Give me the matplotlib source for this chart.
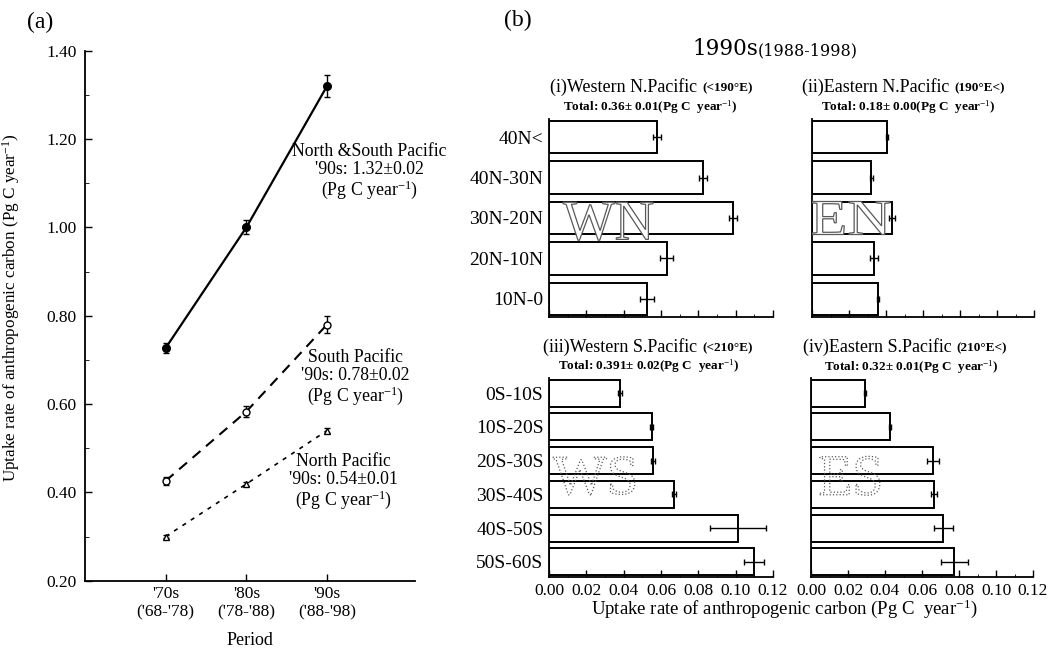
import numpy as np
import matplotlib
matplotlib.use("Agg")
import matplotlib.pyplot as plt
import matplotlib.transforms as mtransforms
from matplotlib.ticker import MultipleLocator, FormatStrFormatter
from matplotlib.textpath import TextPath
from matplotlib.patches import PathPatch
from matplotlib.font_manager import FontProperties

plt.rcParams['font.family'] = ['Liberation Serif', 'DejaVu Serif']
plt.rcParams['mathtext.fontset'] = 'custom'
plt.rcParams['mathtext.rm'] = 'Liberation Serif'
plt.rcParams['mathtext.it'] = 'Liberation Serif:italic'
plt.rcParams['mathtext.bf'] = 'Liberation Serif:bold'

W, H = 1058, 649

# --- (a) donnees par periode
periods = ["'70s\n('68-'78)", "'80s\n('78-'88)", "'90s\n('88-'98)"]
ns_pac = [0.727, 1.000, 1.320]
ns_err = [0.011, 0.016, 0.024]
s_pac = [0.426, 0.583, 0.780]
s_err = [0.009, 0.012, 0.019]
n_pac = [0.300, 0.419, 0.540]
n_err = [0.004, 0.005, 0.006]

# --- (b) bandes de latitude, annees 90
north_bands = ['40N<', '40N-30N', '30N-20N', '20N-10N', '10N-0']
south_bands = ['0S-10S', '10S-20S', '20S-30S', '30S-40S', '40S-50S', '50S-60S']
wn_val = [0.058, 0.0825, 0.0985, 0.063, 0.0525]
wn_err = [0.0022, 0.0022, 0.0022, 0.0033, 0.0036]
en_val = [0.0405, 0.032, 0.043, 0.0335, 0.0357]
en_err = [0.0006, 0.0008, 0.0016, 0.002, 0.0005]
ws_val = [0.038, 0.055, 0.0557, 0.067, 0.101, 0.110]
ws_err = [0.001, 0.0008, 0.001, 0.001, 0.015, 0.0054]
es_val = [0.029, 0.0425, 0.066, 0.0665, 0.0714, 0.0773]
es_err = [0.0005, 0.0005, 0.0031, 0.0018, 0.0051, 0.0073]


def px(x, y):
    # pixels (origine en haut a gauche) -> fraction de figure
    return x / W, 1 - y / H


fig = plt.figure(figsize=(W / 100, H / 100), dpi=100)

# ================= (a) =================
ax = fig.add_axes([85 / W, 1 - 580.7 / H, 330 / W, 530 / H])
xs = np.arange(1, len(periods) + 1)
ax.errorbar(xs, ns_pac, yerr=ns_err, color='black', lw=1.6, marker='o', ms=5.5,
            mfc='black', capsize=2.5, elinewidth=1)
ax.errorbar(xs, s_pac, yerr=s_err, color='black', lw=1.5, ls=(0, (5, 3.5)), marker='o',
            ms=5, mfc='white', capsize=2.5, elinewidth=1)
ax.errorbar(xs, n_pac, yerr=n_err, color='black', lw=1.2, ls=(0, (2.5, 3.5)), marker='^',
            ms=4, mfc='white', capsize=2, elinewidth=1)

ax.set_xlim(0, 4.09)
ax.set_ylim(0.2, 1.4)
ax.set_xticks(xs)
ax.set_xticklabels(periods, fontsize=12.5)
ax.yaxis.set_major_locator(MultipleLocator(0.2))
ax.yaxis.set_minor_locator(MultipleLocator(0.1))
ax.yaxis.set_major_formatter(FormatStrFormatter('%.2f'))
ax.tick_params(axis='both', direction='in', length=5, width=1, labelsize=12.5)
ax.tick_params(axis='y', which='minor', direction='in', length=3)
ax.tick_params(axis='y', pad=6)
ax.tick_params(axis='x', pad=4)
for s in ['top', 'right']:
    ax.spines[s].set_visible(False)
for s in ['left', 'bottom']:
    ax.spines[s].set_linewidth(1.3)
ax.set_xlabel('Period', fontsize=13, labelpad=8)
ax.set_ylabel('Uptake rate of anthropogenic carbon (Pg C year$^{-1}$)', fontsize=12.3)
ax.yaxis.set_label_coords((22 - 85) / 330, 0.515)

ax.text(3.525, 1.125, "North &South Pacific\n'90s: 1.32±0.02\n(Pg C year$^{-1}$)",
        ha='center', va='center', fontsize=12.8, linespacing=1.05)
ax.text(3.35, 0.659, "South Pacific\n'90s: 0.78±0.02\n(Pg C year$^{-1}$)",
        ha='center', va='center', fontsize=12.8, linespacing=1.05)
ax.text(3.20, 0.4235, "North Pacific\n'90s: 0.54±0.01\n(Pg C year$^{-1}$)",
        ha='center', va='center', fontsize=12.8, linespacing=1.05)

fig.text(*px(40, 22), '(a)', fontsize=17, ha='center', va='center')

# ================= (b) =================
fig.text(*px(518, 20), '(b)', fontsize=17, ha='center', va='center')
fig.text(*px(758, 55), '1990s', fontsize=15.5, ha='right', va='baseline', family='DejaVu Serif')
fig.text(*px(758, 55), '(1988-1998)', fontsize=11.5, ha='left', va='baseline', family='DejaVu Serif')


def ghost(ax, text, x, y, w, h, face, ls):
    # grandes lettres en filigrane (WN, EN, WS, ES)
    tp = TextPath((0, 0), text, size=40, prop=FontProperties(family='Liberation Serif'))
    bb = tp.get_extents()
    tr = (mtransforms.Affine2D().translate(-(bb.x0 + bb.x1) / 2, -(bb.y0 + bb.y1) / 2)
          .scale(w / bb.width, h / bb.height)
          + mtransforms.ScaledTranslation(x, y, ax.transData))
    ax.add_patch(PathPatch(tp, transform=tr, facecolor=face, edgecolor='0.35',
                           lw=0.9, linestyle=ls, zorder=3))


def bar_panel(rect, labels, vals, errs, show_labels, show_xlabels):
    a = fig.add_axes(rect)
    pos = np.arange(len(labels))
    a.barh(pos, vals, height=0.8, xerr=errs, color='white', edgecolor='black', linewidth=1.4,
           error_kw=dict(ecolor='black', elinewidth=1.0, capsize=2.5, capthick=1.0))
    a.set_xlim(0, 0.12)
    a.set_ylim(len(labels) - 1 + 0.45, -0.45)
    a.set_yticks(pos)
    if show_labels:
        a.set_yticklabels(labels, fontsize=14)
    else:
        a.set_yticklabels([])
    a.tick_params(axis='y', length=0, pad=4)
    a.xaxis.set_major_locator(MultipleLocator(0.02))
    a.xaxis.set_minor_locator(MultipleLocator(0.01))
    a.xaxis.set_major_formatter(FormatStrFormatter('%.2f'))
    a.tick_params(axis='x', which='major', direction='in', length=5, width=1, labelsize=12.5, pad=4)
    a.tick_params(axis='x', which='minor', direction='in', length=2.5)
    if not show_xlabels:
        a.set_xticklabels([])
    for s in ['top', 'right']:
        a.spines[s].set_visible(False)
    for s in ['left', 'bottom']:
        a.spines[s].set_linewidth(1.3)
    return a


ax1 = bar_panel([549 / W, 1 - 317 / H, 224 / W, 198 / H], north_bands, wn_val, wn_err, True, False)
ax2 = bar_panel([812 / W, 1 - 317 / H, 222 / W, 198 / H], north_bands, en_val, en_err, False, False)
ax3 = bar_panel([549 / W, 1 - 577 / H, 224 / W, 199 / H], south_bands, ws_val, ws_err, True, True)
ax4 = bar_panel([811 / W, 1 - 577 / H, 222 / W, 199 / H], south_bands, es_val, es_err, False, True)

ghost(ax1, 'WN', 0.0316, 2.08, 90, 38, 'white', '-')
ghost(ax2, 'EN', 0.021, 2.0, 78, 33, 'white', '-')
ghost(ax3, 'WS', 0.024, 2.45, 82, 38, 'none', ':')
ghost(ax4, 'ES', 0.021, 2.45, 60, 39, 'none', ':')

# titres des sous-graphes
titles = [
    (702, 87, '(i)Western N.Pacific ', '(<190°E)', 650, 107, 'Total: 0.36± 0.01(Pg C  year$^{-1}$)'),
    (954, 87, '(ii)Eastern N.Pacific ', '(190°E<)', 908, 107, 'Total: 0.18± 0.00(Pg C  year$^{-1}$)'),
    (702, 347, '(iii)Western S.Pacific ', '(<210°E)', 649, 366, 'Total: 0.391± 0.02(Pg C  year$^{-1}$)'),
    (956, 347, '(iv)Eastern S.Pacific ', '(210°E<)', 911, 367, 'Total: 0.32± 0.01(Pg C  year$^{-1}$)'),
]
for xs_, ys_, main, small, xt, yt, total in titles:
    fig.text(*px(xs_, ys_), main, fontsize=13, ha='right', va='center')
    fig.text(*px(xs_, ys_ + 1), small, fontsize=9.5, ha='left', va='center', fontweight='bold')
    fig.text(*px(xt, yt), total, fontsize=9.5, ha='center', va='center', fontweight='bold')

fig.text(*px(784, 609), 'Uptake rate of anthropogenic carbon (Pg C  year$^{-1}$)',
         fontsize=13.5, ha='center', va='center')

fig.savefig('out.png', dpi=100)
